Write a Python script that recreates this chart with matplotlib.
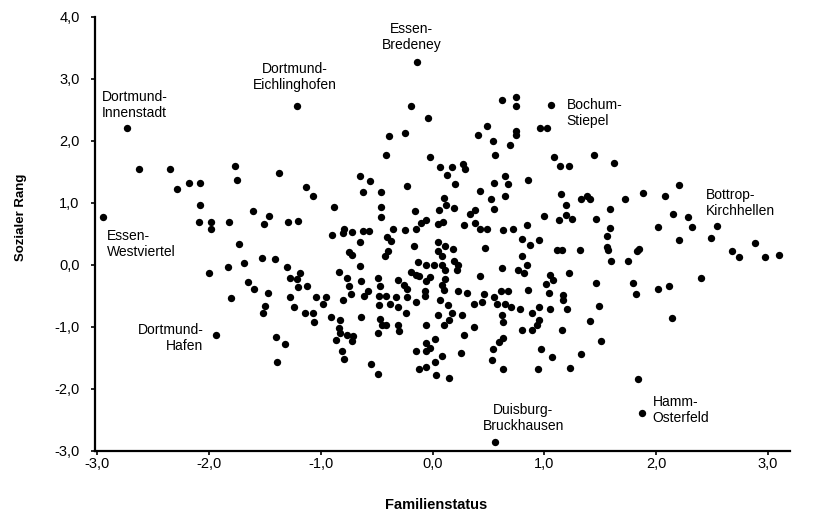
import matplotlib
matplotlib.use("Agg")
import matplotlib.pyplot as plt
from matplotlib.ticker import FuncFormatter

plt.rcParams['font.family'] = ['Liberation Sans', 'DejaVu Sans']

# Familienstatus (x) / Sozialer Rang (y)
fam = [
    -2.73, -1.21, -0.14, 1.06, -2.95, -1.94, 1.87, 0.56, 3.10,
    -0.19, -0.04, -0.25, -0.39, 0.41, 0.49, -0.42, -0.02,
    0.62, 0.75, 0.75, 0.75, 0.75, 0.96, 1.02, 0.54, 0.69, 0.56, 1.09, 1.44,
    -2.63, -2.35, -1.77, -1.37, -1.75, -2.18, -2.08, -2.29, -2.08, -1.61,
    -1.46, -1.51, -2.09, -1.98, -1.98, -1.82, -1.29, -1.73, -1.53, -1.41,
    -1.30, -1.83, -1.69, -2.00, -1.28, -1.65, -1.60, -1.47, -1.28, -1.80, -1.50,
    -1.52, -1.40, -1.32, -1.39,
    0.07, 0.17, 0.27, 0.29, 0.13, 0.20, -0.65, -0.56, -0.23, -1.13, -1.07,
    -0.62, -0.46, 0.42, 0.10, -0.88, -0.46, -0.16, 0.06, 0.12, 0.19, 0.33,
    0.38, -0.46, -1.20, -0.10, -0.06, 0.05, 0.09, 0.28, 0.38, 0.42, 0.49,
    -0.79, -0.80, -0.72, -0.62, -0.57, -0.35, -0.25, -0.15, -0.90, -0.41,
    -0.37, -0.65, -0.17, 0.05, 0.11, 0.18, 0.05, 0.47, -0.75, -0.72, -0.40,
    -0.43, 0.08, -0.13, -0.06, 0.01, 0.08, 0.19, 0.23, 0.11, 0.22, -0.65,
    -1.19, -0.84, -0.19, -0.15, -0.12, -0.02, -0.06, 0.11, 0.42, -0.77,
    -0.49, -0.31, -0.26, -0.23, -1.21, -1.20, -1.12, -0.75, -0.64, -0.47,
    0.08, 0.10, -0.07, -0.07, -0.58, -0.61, -0.73, 0.23, 0.31, 0.46, -1.04,
    -0.95, -0.98, -0.48, -0.42, -0.33, -0.38, -0.23, -0.15, -0.80, -0.48,
    -0.31, 0.07, 0.14, 0.37, 0.44, -1.24,
    1.14, 1.22, 1.62, 0.65, 0.67, 0.55, 0.85, 2.20, 1.15, 0.65, 0.52, 1.33,
    1.38, 1.41, 1.72, 1.88, 2.08, 0.55, 1.19, 1.59, 1.00, 1.19, 1.13, 1.25,
    1.46, 2.15, 2.28, 0.84, 0.72, 0.63, 1.59, 2.02, 1.56, 0.80, 0.95, 0.87,
    2.20, 1.56, 1.57, 1.11, 1.16, 1.32, 1.83, 1.85, 0.80, 1.60, 1.75, 0.84,
    0.62, 0.76, 0.82, 1.22, 1.05, 1.08, 1.01, 1.46, 1.79, 2.11, 2.02, 0.61,
    0.67, 0.85, 1.04, 1.17, 1.17, 1.82, 0.55, 0.58, 0.65, 0.70, 0.78, 0.95,
    1.05, 1.20, 1.49,
    2.32, 2.54, 2.49, 2.88, 2.68, 2.74, 2.97, 2.40,
    -1.14, -1.07, -1.06, -0.91, -0.83, -0.84, -0.83, -0.86, -0.77, -0.71,
    -0.72, -0.81, -0.79, -0.64, -0.47, -0.45, -0.42, -0.49, -0.31, -0.30,
    -0.24, -0.55, -0.49, 0.05, -0.06, 0.10, 0.15, 0.17, 0.26, 0.37, 0.28,
    0.02, -0.06, -0.02, -0.06, -0.15, 0.08, 0.02, 0.25, -0.06, -0.12, 0.03, 0.15,
    0.62, 0.63, 0.95, 0.93, 0.80, 0.89, 1.16, 1.41, 1.51, 2.14, 0.63, 0.59,
    0.54, 0.53, 0.97, 1.07, 1.33, 0.63, 0.94, 1.23, 1.84, 0.89,
]
rang = [
    2.20, 2.56, 3.27, 2.57, 0.76, -1.14, -2.40, -2.87, 0.16,
    2.55, 2.37, 2.12, 2.08, 2.09, 2.24, 1.76, 1.73,
    2.65, 2.70, 2.56, 2.16, 2.09, 2.20, 2.20, 2.00, 1.92, 1.77, 1.74, 1.77,
    1.54, 1.54, 1.59, 1.47, 1.36, 1.32, 1.32, 1.22, 0.96, 0.87,
    0.78, 0.65, 0.69, 0.69, 0.57, 0.69, 0.69, 0.33, 0.11, 0.09,
    -0.04, -0.04, 0.02, -0.14, -0.22, -0.29, -0.40, -0.46, -0.53, -0.54, -0.67,
    -0.78, -1.17, -1.28, -1.57,
    1.58, 1.58, 1.62, 1.54, 1.44, 1.30, 1.42, 1.35, 1.26, 1.25, 1.11,
    1.17, 1.17, 1.19, 1.08, 0.92, 0.93, 0.87, 0.88, 0.96, 0.91, 0.82,
    0.88, 0.76, 0.70, 0.67, 0.72, 0.65, 0.69, 0.63, 0.67, 0.58, 0.58,
    0.57, 0.51, 0.53, 0.54, 0.54, 0.57, 0.55, 0.57, 0.48, 0.45,
    0.38, 0.36, 0.30, 0.36, 0.30, 0.25, 0.22, 0.27, 0.20, 0.15, 0.21,
    0.13, 0.13, 0.04, -0.01, -0.01, -0.01, 0.05, -0.01, -0.09, -0.09, -0.02,
    -0.13, -0.12, -0.12, -0.17, -0.19, -0.20, -0.26, -0.23, -0.18, -0.21,
    -0.21, -0.25, -0.33, -0.39, -0.23, -0.36, -0.35, -0.34, -0.27, -0.35,
    -0.33, -0.41, -0.43, -0.51, -0.42, -0.51, -0.48, -0.43, -0.46, -0.47, -0.52,
    -0.52, -0.63, -0.50, -0.50, -0.52, -0.63, -0.52, -0.60, -0.57, -0.65,
    -0.68, -0.57, -0.65, -0.63, -0.60, -0.68,
    1.59, 1.59, 1.64, 1.42, 1.30, 1.31, 1.37, 1.29, 1.14, 1.11, 1.05, 1.06,
    1.11, 1.06, 1.06, 1.15, 1.11, 0.90, 0.96, 0.89, 0.79, 0.80, 0.72, 0.73,
    0.74, 0.82, 0.76, 0.63, 0.58, 0.55, 0.59, 0.61, 0.46, 0.41, 0.39, 0.32,
    0.39, 0.28, 0.23, 0.23, 0.23, 0.23, 0.21, 0.25, 0.13, 0.06, 0.06, 0.00,
    -0.05, -0.09, -0.14, -0.13, -0.17, -0.25, -0.32, -0.30, -0.30, -0.34, -0.40, -0.42,
    -0.42, -0.41, -0.46, -0.49, -0.57, -0.48, -0.52, -0.63, -0.64, -0.68, -0.72, -0.68,
    -0.72, -0.71, -0.67,
    0.61, 0.62, 0.43, 0.35, 0.22, 0.12, 0.12, -0.21,
    -0.78, -0.78, -0.93, -0.84, -0.90, -1.03, -1.11, -1.22, -1.14, -1.15,
    -1.23, -1.39, -1.52, -0.84, -0.88, -0.98, -0.98, -1.11, -0.98, -1.08,
    -0.78, -1.61, -1.76, -0.82, -0.97, -0.97, -0.90, -0.79, -0.82, -1.00, -1.13,
    -1.20, -1.27, -1.34, -1.39, -1.39, -1.47, -1.57, -1.42, -1.65, -1.69, -1.79, -1.83,
    -0.82, -0.92, -0.90, -0.98, -1.06, -1.06, -1.05, -0.91, -1.23, -0.87, -1.19, -1.25,
    -1.37, -1.54, -1.36, -1.49, -1.44, -1.69, -1.68, -1.67, -1.85, -0.78,
]

# named districts
namen = ["Dortmund-\nInnenstadt", "Dortmund-\nEichlinghofen", "Essen-\nBredeney",
         "Bochum-\nStiepel", "Bottrop-\nKirchhellen", "Essen-\nWestviertel",
         "Dortmund-\nHafen", "Duisburg-\nBruckhausen", "Hamm-\nOsterfeld"]
name_pos = [(-2.96, 2.57, 'left'), (-1.23, 3.02, 'center'), (-0.19, 3.67, 'center'),
            (1.20, 2.44, 'left'), (2.44, 0.99, 'left'), (-2.91, 0.33, 'left'),
            (-2.05, -1.19, 'right'), (0.81, -2.48, 'center'), (1.97, -2.35, 'left')]

fig = plt.figure(figsize=(8.16, 5.18), dpi=100)
ax = fig.add_axes([0.1164, 0.1303, 0.8522, 0.8378])

ax.scatter(fam, rang, s=28, c='black', linewidths=0, zorder=3)

for name, (tx, ty, ha) in zip(namen, name_pos):
    ax.text(tx, ty, name, ha=ha, va='center', multialignment=ha,
            fontsize=10, linespacing=1.15)

ax.set_xlim(-3.02, 3.2)
ax.set_ylim(-3.0, 4.0)
ax.set_xticks([-3, -2, -1, 0, 1, 2, 3])
ax.set_yticks([-3, -2, -1, 0, 1, 2, 3, 4])
komma = FuncFormatter(lambda v, p: f"{v:.1f}".replace('.', ','))
ax.xaxis.set_major_formatter(komma)
ax.yaxis.set_major_formatter(komma)
ax.tick_params(direction='out', length=3, width=1.2, labelsize=10.5, colors='black')
ax.tick_params(axis='x', pad=2)
ax.tick_params(axis='y', pad=8)

for side in ['top', 'right']:
    ax.spines[side].set_visible(False)
for side in ['left', 'bottom']:
    ax.spines[side].set_linewidth(1.6)
    ax.spines[side].set_color('black')

fig.text(0.535, 0.025, "Familienstatus", ha='center', va='center',
         fontsize=10.5, fontweight='bold')
fig.text(0.026, 0.58, "Sozialer Rang", ha='center', va='center',
         rotation=90, fontsize=9.5, fontweight='bold')

fig.savefig("out.png", dpi=100, facecolor='white')
